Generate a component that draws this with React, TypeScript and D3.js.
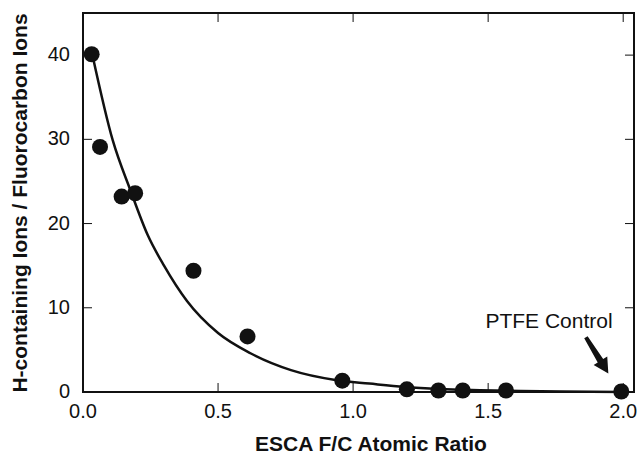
import React from 'react';
import * as d3 from 'd3';

// measured points (F/C ratio, H-containing / fluorocarbon ion ratio)
const fcRatio = [0.032, 0.063, 0.143, 0.193, 0.409, 0.609, 0.96, 1.199, 1.316, 1.406, 1.566, 1.993];
const ionRatio = [40.1, 29.1, 23.2, 23.6, 14.4, 6.6, 1.34, 0.32, 0.18, 0.18, 0.18, 0.06];

// fitted curve
const fitX = [0.035, 0.11, 0.175, 0.24, 0.3, 0.385, 0.5, 0.62, 0.77, 0.94, 1.06, 1.19, 1.32, 1.47, 1.62, 1.77, 2.0];
const fitY = [40.0, 29.9, 24.0, 18.6, 15.0, 10.8, 7.0, 4.6, 2.6, 1.4, 1.0, 0.6, 0.36, 0.22, 0.12, 0.05, 0.0];

const xTicks = [0, 0.5, 1.0, 1.5, 2.0];
const yTicks = [0, 10, 20, 30, 40];

const W = 638;
const H = 456;
const left = 83, right = 634, top = 13, bottom = 392;

const App = () => {
    const x = d3.scaleLinear().domain([0, 2.04]).range([left, right]);
    const y = d3.scaleLinear().domain([0, 45]).range([bottom, top]);

    const line = d3
        .line<number>()
        .x((d, i) => x(fitX[i]))
        .y(d => y(d))
        .curve(d3.curveMonotoneX);

    // arrow pointing at the PTFE control point
    const tail = [x(1.862), y(6.5)];
    const tip = [x(1.945), y(2.2)];
    const ang = Math.atan2(tip[1] - tail[1], tip[0] - tail[0]);
    const ux = Math.cos(ang), uy = Math.sin(ang);
    const nx = -uy, ny = ux;
    const headLen = 15, headW = 8;
    const bx = tip[0] - ux * headLen, by = tip[1] - uy * headLen;
    const arrow = [
        [tail[0] + nx * 2, tail[1] + ny * 2],
        [bx + nx * 3.2, by + ny * 3.2],
        [bx + nx * headW, by + ny * headW],
        [tip[0], tip[1]],
        [bx - nx * headW, by - ny * headW],
        [bx - nx * 3.2, by - ny * 3.2],
        [tail[0] - nx * 2, tail[1] - ny * 2],
    ];

    const font = 'Liberation Sans, Arial, Helvetica, sans-serif';
    const ink = '#111';

    return (
        <div style={{ position: 'fixed', left: 0, top: 0 }}>
            <svg width={W} height={H} style={{ display: 'block', background: '#fff' }} fontFamily={font}>
                {/* ticks, inward on all four sides */}
                {xTicks.map(t => (
                    <g key={'x' + t}>
                        <line x1={x(t)} x2={x(t)} y1={bottom} y2={bottom - 9} stroke={ink} strokeWidth={1} />
                        <line x1={x(t)} x2={x(t)} y1={top} y2={top + 9} stroke={ink} strokeWidth={1} />
                        <text x={x(t)} y={418} textAnchor="middle" fontSize={20} fill={ink}>
                            {t.toFixed(1)}
                        </text>
                    </g>
                ))}
                {yTicks.map(t => (
                    <g key={'y' + t}>
                        <line x1={left} x2={left + 9} y1={y(t)} y2={y(t)} stroke={ink} strokeWidth={1} />
                        <line x1={right} x2={right - 9} y1={y(t)} y2={y(t)} stroke={ink} strokeWidth={1} />
                        <text x={70} y={y(t) - 1} textAnchor="end" dominantBaseline="central" fontSize={20} fill={ink}>
                            {t}
                        </text>
                    </g>
                ))}

                {/* frame */}
                <rect x={left} y={top} width={right - left} height={bottom - top} fill="none" stroke={ink} strokeWidth={2} />

                {/* fit curve */}
                <path d={line(fitY) || ''} fill="none" stroke={ink} strokeWidth={2.5} />

                {/* points */}
                {ionRatio.map((v, i) => (
                    <circle key={i} cx={x(fcRatio[i])} cy={y(v)} r={8} fill={ink} />
                ))}

                {/* annotation */}
                <text x={549} y={328} textAnchor="middle" fontSize={21} fill={ink}>
                    PTFE Control
                </text>
                <polygon points={arrow.map(p => p.join(',')).join(' ')} fill={ink} />

                {/* axis titles */}
                <text x={371} y={451} textAnchor="middle" fontSize={21} fontWeight="bold" fill={ink}>
                    ESCA F/C Atomic Ratio
                </text>
                <text
                    transform={`translate(27, 203) rotate(-90)`}
                    textAnchor="middle"
                    fontSize={21}
                    fontWeight="bold"
                    fill={ink}
                >
                    H-containing Ions / Fluorocarbon Ions
                </text>
            </svg>
        </div>
    );
};

export default App;
